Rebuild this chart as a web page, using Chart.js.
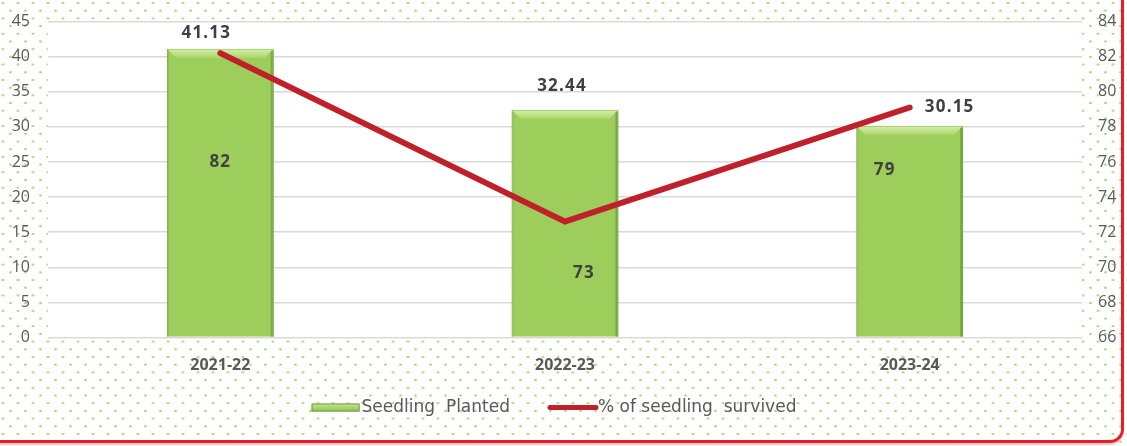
<!DOCTYPE html>
<html>
<head>
<meta charset="utf-8">
<script src="https://cdn.jsdelivr.net/npm/chart.js@4.4.1/dist/chart.umd.min.js"></script>
<style>
  html, body { margin: 0; padding: 0; }
  body {
    width: 1127px; height: 446px; overflow: hidden; position: relative;
    background-color: #ffffff;
    background-image:
      radial-gradient(circle, #a3d465 0.9px, rgba(255,255,255,0) 1.5px),
      radial-gradient(circle, #a3d465 0.9px, rgba(255,255,255,0) 1.5px);
    background-size: 15px 15.4px, 15px 15.4px;
    background-position: 3px 3px, 10.5px 10.7px;
  }
  #frame {
    position: absolute; left: -10px; top: -10px; width: 1134px; height: 453px;
    border-right: 3px solid #ec1c24; border-bottom: 3px solid #ec1c24;
    border-bottom-right-radius: 14px; box-sizing: border-box;
    box-shadow: 0 2px 0 #f6c6c8;
  }
  #wrap { position: absolute; left: 0; top: 0; width: 1127px; height: 446px; }
</style>
</head>
<body>
<div id="frame"></div>
<div id="wrap"><canvas id="c" width="1127" height="446"></canvas></div>
<script>
// ---- data ----
const categories = ['2021-22', '2022-23', '2023-24'];
const seedlingPlanted = [41.13, 32.44, 30.15];
const seedlingSurvived = [82.2, 72.6, 79.1];
const survivedLabels = ['82', '73', '79'];
const leftTicks = [0, 5, 10, 15, 20, 25, 30, 35, 40, 45];
const rightTicks = [66, 68, 70, 72, 74, 76, 78, 80, 82, 84];
const seriesNames = ['Seedling  Planted', '% of seedling  survived'];

// label offsets (layout only) relative to each bar's top
const topLabelOffset = [[-14, -16], [-3, -24], [40, -19]];
const innerLabelOffset = [[0, 113], [19, 163], [-25, 44]];

const GRAY = '#595959';
const BAR_DS = 1;
const LINE_DS = 0;

const plotBg = {
  id: 'plotBg',
  beforeDraw(chart) {
    const a = chart.chartArea, ctx = chart.ctx;
    ctx.save();
    ctx.fillStyle = '#ffffff';
    ctx.fillRect(a.left, a.top, a.right - a.left, a.bottom - a.top);
    ctx.restore();
  }
};

function drawBarSwatch(ctx, l, t, w, h) {
  const g = ctx.createLinearGradient(0, t, 0, t + h);
  g.addColorStop(0, '#c8e69a');
  g.addColorStop(1, '#8fc24f');
  ctx.fillStyle = g;
  ctx.fillRect(l, t, w, h);
  ctx.strokeStyle = '#6f9e3a';
  ctx.lineWidth = 1;
  ctx.strokeRect(l + 0.5, t + 0.5, w - 1, h - 1);
}

const barBevel = {
  id: 'barBevel',
  afterDatasetDraw(chart, args) {
    if (args.index !== BAR_DS) return;
    const ctx = chart.ctx;
    args.meta.data.forEach(bar => {
      const p = bar.getProps(['x', 'y', 'width', 'base'], true);
      const l = p.x - p.width / 2, r = p.x + p.width / 2, t = p.y;
      ctx.save();
      const g = ctx.createLinearGradient(0, t, 0, t + 9);
      g.addColorStop(0, '#d6eeaa');
      g.addColorStop(1, '#acd76e');
      ctx.fillStyle = g;
      ctx.beginPath();
      ctx.moveTo(l + 1, t + 1); ctx.lineTo(r - 1, t + 1); ctx.lineTo(r - 9, t + 9); ctx.lineTo(l + 9, t + 9); ctx.closePath();
      ctx.fill();
      ctx.fillStyle = 'rgba(80,130,35,0.45)';
      ctx.fillRect(r - 3, t + 2, 3, p.base - t - 2);
      ctx.fillStyle = 'rgba(80,130,35,0.2)';
      ctx.fillRect(l, t + 2, 2, p.base - t - 2);
      ctx.restore();
    });
  }
};

const valueLabels = {
  id: 'valueLabels',
  afterDatasetsDraw(chart) {
    const ctx = chart.ctx;
    const bars = chart.getDatasetMeta(BAR_DS).data;
    ctx.save();
    ctx.fillStyle = '#404040';
    ctx.textAlign = 'center';
    ctx.textBaseline = 'middle';
    ctx.font = 'bold 17px "Open Sans", "DejaVu Sans", sans-serif';
    try { ctx.letterSpacing = '1.2px'; } catch (e) {}
    bars.forEach((bar, i) => {
      const o = topLabelOffset[i];
      ctx.fillText(seedlingPlanted[i].toFixed(2), bar.x + o[0], bar.y + o[1]);
      const q = innerLabelOffset[i];
      ctx.fillText(survivedLabels[i], bar.x + q[0], bar.y + q[1]);
    });
    ctx.restore();
  }
};

// custom legend drawn below the x axis
const customLegend = {
  id: 'customLegend',
  afterDraw(chart) {
    const ctx = chart.ctx;
    const y = chart.chartArea.bottom + 70;
    const centerX = 554;
    const swW = 48, gapText = 2, gapItem = 38;
    ctx.save();
    ctx.font = '17px "DejaVu Sans", sans-serif';
    ctx.textBaseline = 'middle';
    ctx.textAlign = 'left';
    const order = [BAR_DS, LINE_DS];
    const items = order.map(i => ({ ds: chart.data.datasets[i], w: ctx.measureText(chart.data.datasets[i].label).width }));
    const total = items.reduce((s, it) => s + swW + gapText + it.w, 0) + gapItem * (items.length - 1);
    let x = centerX - total / 2;
    items.forEach(it => {
      if (it.ds.type === 'bar') {
        drawBarSwatch(ctx, x, y - 4, swW, 8);
      } else {
        ctx.strokeStyle = it.ds.borderColor;
        ctx.lineWidth = 5;
        ctx.lineCap = 'round';
        ctx.beginPath();
        ctx.moveTo(x + 2, y); ctx.lineTo(x + swW, y);
        ctx.stroke();
      }
      x += swW + gapText;
      ctx.fillStyle = GRAY;
      ctx.fillText(it.ds.label, x, y);
      x += it.w + gapItem;
    });
    ctx.restore();
  }
};

function zeroPad(s) { s.paddingTop = 0; s.paddingBottom = 0; }

new Chart(document.getElementById('c'), {
  data: {
    labels: categories,
    datasets: [
      {
        type: 'line',
        label: seriesNames[1],
        data: seedlingSurvived,
        yAxisID: 'y1',
        borderColor: '#c0202a',
        backgroundColor: '#c0202a',
        borderWidth: 6,
        pointRadius: 0,
        tension: 0,
        order: 0,
        borderCapStyle: 'round'
      },
      {
        type: 'bar',
        label: seriesNames[0],
        data: seedlingPlanted,
        yAxisID: 'y',
        backgroundColor: '#9dcd5b',
        borderColor: '#86b84a',
        borderWidth: 1,
        barPercentage: 0.31,
        categoryPercentage: 1,
        order: 1
      }
    ]
  },
  options: {
    responsive: false,
    animation: false,
    devicePixelRatio: 1,
    layout: { padding: { left: 0, right: 0, top: 21.5, bottom: 68.5 } },
    plugins: {
      tooltip: { enabled: false },
      legend: { display: false }
    },
    scales: {
      x: {
        grid: { display: false, drawTicks: false },
        border: { display: false },
        ticks: {
          color: GRAY,
          font: { family: '"Open Sans", "DejaVu Sans", sans-serif', size: 16, weight: 'bold' },
          padding: 18.5
        },
        afterFit(s) { s.height = 40; s.paddingLeft = 0; s.paddingRight = 0; }
      },
      y: {
        position: 'left',
        min: 0, max: 45,
        afterBuildTicks(s) { s.ticks = leftTicks.map(v => ({ value: v })); },
        grid: { color: '#d9d9d9', lineWidth: 1.5, drawTicks: false },
        border: { display: false },
        ticks: {
          color: GRAY,
          font: { family: '"Open Sans", "DejaVu Sans", sans-serif', size: 16 },
          padding: 18
        },
        afterFit(s) { s.width = 48; zeroPad(s); }
      },
      y1: {
        position: 'right',
        min: 66, max: 84,
        afterBuildTicks(s) { s.ticks = rightTicks.map(v => ({ value: v })); },
        grid: { display: false, drawTicks: false },
        border: { display: false },
        ticks: {
          color: GRAY,
          font: { family: '"Open Sans", "DejaVu Sans", sans-serif', size: 16 },
          padding: 16
        },
        afterFit(s) { s.width = 45; zeroPad(s); }
      }
    }
  },
  plugins: [plotBg, barBevel, valueLabels, customLegend]
});
</script>
</body>
</html>
